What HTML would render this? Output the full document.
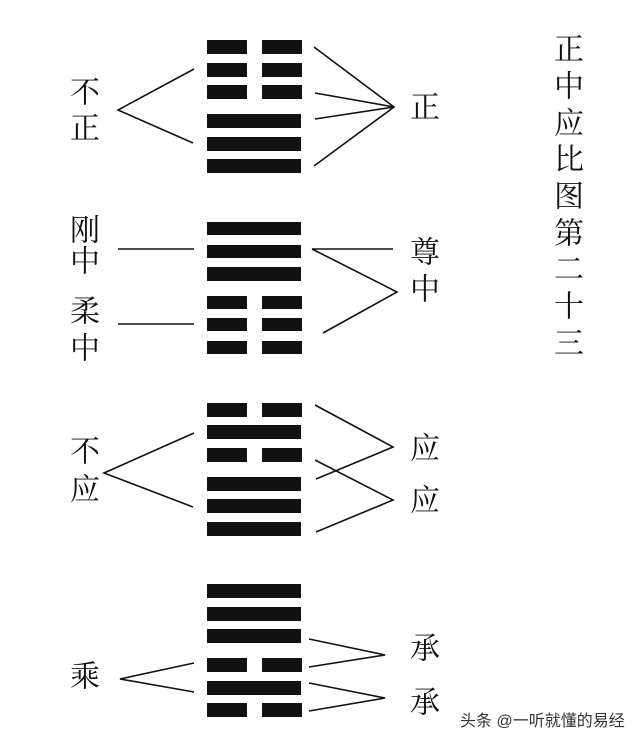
<!DOCTYPE html>
<html><head><meta charset="utf-8"><style>
html,body{margin:0;padding:0;background:#fff;}
svg{display:block}
text{font-family:"Liberation Serif","Noto Serif CJK SC",serif;font-size:30px;fill:#111;}
.w{font-family:"Liberation Sans","Noto Sans CJK SC",sans-serif;font-size:16px;fill:#333;}
</style></head><body>
<svg width="640" height="742" viewBox="0 0 640 742" xmlns="http://www.w3.org/2000/svg">
<g fill="#111">
<!-- hex1: b b b s s s -->
<rect x="207" y="40" width="40" height="14"/><rect x="262" y="40" width="40" height="14"/>
<rect x="207" y="63" width="40" height="14"/><rect x="262" y="63" width="40" height="14"/>
<rect x="207" y="85" width="40" height="14"/><rect x="262" y="85" width="40" height="14"/>
<rect x="207" y="114" width="94" height="14"/>
<rect x="207" y="137" width="94" height="14"/>
<rect x="207" y="159" width="94" height="14"/>
<!-- hex2: s s s b b b -->
<rect x="207" y="222" width="94" height="13"/>
<rect x="207" y="245" width="94" height="13"/>
<rect x="207" y="267" width="94" height="14"/>
<rect x="207" y="296" width="40" height="13"/><rect x="262" y="296" width="40" height="13"/>
<rect x="207" y="318" width="40" height="13"/><rect x="262" y="318" width="40" height="13"/>
<rect x="207" y="341" width="40" height="13"/><rect x="262" y="341" width="40" height="13"/>
<!-- hex3: b s b s s s -->
<rect x="207" y="403" width="40" height="14"/><rect x="262" y="403" width="40" height="14"/>
<rect x="207" y="425" width="94" height="14"/>
<rect x="207" y="448" width="40" height="14"/><rect x="262" y="448" width="40" height="14"/>
<rect x="207" y="477" width="94" height="14"/>
<rect x="207" y="499" width="94" height="14"/>
<rect x="207" y="522" width="94" height="14"/>
<!-- hex4: s s s b s b -->
<rect x="207" y="584" width="94" height="14"/>
<rect x="207" y="607" width="94" height="14"/>
<rect x="207" y="629" width="94" height="14"/>
<rect x="207" y="658" width="40" height="14"/><rect x="262" y="658" width="40" height="14"/>
<rect x="207" y="681" width="94" height="14"/>
<rect x="207" y="703" width="40" height="14"/><rect x="262" y="703" width="40" height="14"/>
</g>
<g stroke="#111" stroke-width="1.6" fill="none">
<polyline points="194,69 118,110 193,143"/>
<polyline points="314,47 394,107 314,166"/>
<polyline points="315,93 394,107 315,119"/>
<line x1="118" y1="249" x2="194" y2="249"/>
<line x1="118" y1="324" x2="194" y2="324"/>
<line x1="312" y1="249" x2="393" y2="249"/>
<polyline points="312,249 397,292 323,333"/>
<polyline points="194,433 104,473 193,507"/>
<polyline points="315,405 393,447 316,479"/>
<polyline points="315,460 393,500 316,532"/>
<polyline points="194,663 120,679 194,692"/>
<polyline points="309,639 385,655 309,667"/>
<polyline points="309,683 385,698 309,711"/>
</g>
<g text-anchor="middle" dominant-baseline="central">
<text x="85" y="93">不</text><text x="85" y="129">正</text>
<text x="425" y="108">正</text>
<text x="85" y="231">刚</text><text x="85" y="262">中</text>
<text x="85" y="312">柔</text><text x="85" y="349">中</text>
<text x="425" y="253">尊</text><text x="425" y="290">中</text>
<text x="85" y="452">不</text><text x="85" y="490">应</text>
<text x="425" y="449">应</text><text x="425" y="501">应</text>
<text x="85" y="677">乘</text>
<text x="425" y="649">承</text><text x="425" y="703">承</text>
<text x="569" y="50">正</text>
<text x="569" y="87">中</text>
<text x="569" y="124">应</text>
<text x="569" y="160">比</text>
<text x="569" y="197">图</text>
<text x="569" y="234">第</text>
<text x="569" y="270">二</text>
<text x="569" y="307">十</text>
<text x="569" y="344">三</text>
</g>
<text class="w" x="460" y="726">头条 @一听就懂的易经</text>
</svg>
</body></html>
